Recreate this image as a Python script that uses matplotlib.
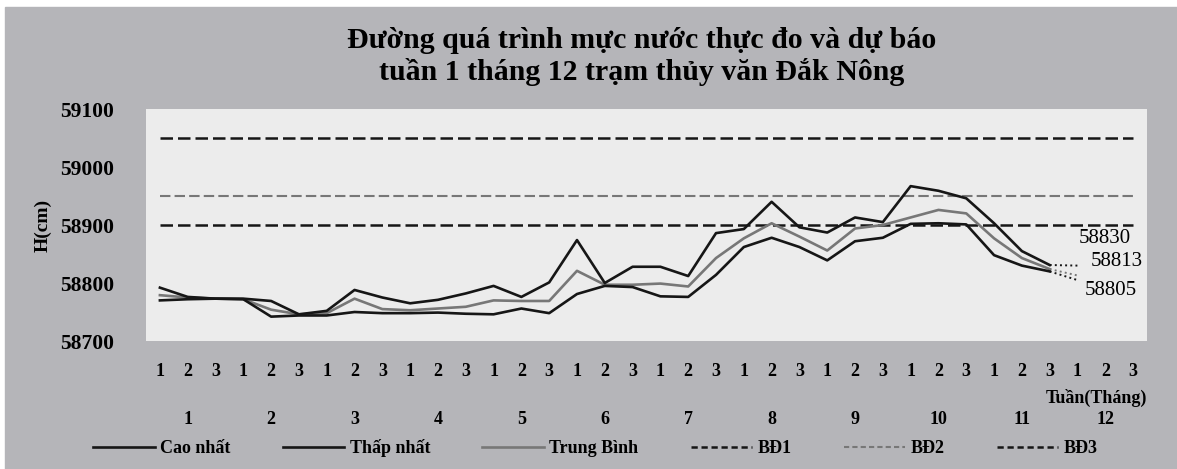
import numpy as np
import matplotlib
matplotlib.use("Agg")
import matplotlib.pyplot as plt
from matplotlib.lines import Line2D
from matplotlib.patches import Rectangle

# --- data -----------------------------------------------------------------
thang = [str(m) for m in range(1, 13)]
tuan = ["1", "2", "3"] * 12

cao_nhat = [58792, 58776, 58773, 58773, 58769, 58746, 58752, 58788, 58775,
            58765, 58771, 58782, 58795, 58776, 58801, 58874, 58800, 58828,
            58828, 58812, 58886, 58893, 58940, 58896, 58887, 58913, 58905,
            58967, 58959, 58946, 58903, 58855, 58831]
thap_nhat = [58770, 58772, 58773, 58772, 58742, 58744, 58744, 58750, 58748,
             58748, 58749, 58747, 58746, 58756, 58748, 58781, 58795, 58793,
             58777, 58776, 58814, 58862, 58878, 58862, 58839, 58872, 58878,
             58902, 58903, 58901, 58848, 58830, 58820]
trung_binh = [58779, 58775, 58773, 58772, 58754, 58746, 58748, 58773, 58755,
              58753, 58756, 58759, 58770, 58769, 58769, 58821, 58797, 58797,
              58799, 58794, 58843, 58877, 58903, 58880, 58856, 58894, 58900,
              58913, 58926, 58920, 58877, 58843, 58824]

# du bao tuan 1 thang 12
du_bao = {"cao": 58830, "tb": 58813, "thap": 58805}

bd1, bd2, bd3 = 58900, 58950, 59050

# --- style ----------------------------------------------------------------
plt.rcParams["font.family"] = ["Liberation Serif", "DejaVu Serif"]
den = "#161616"
xam = "#777777"
nen = "#b5b5b9"
nen_ve = "#ececec"

fig = plt.figure(figsize=(11.77, 4.69), dpi=100, facecolor="white")
fig.patches.append(Rectangle((5 / 1177, 0), 1, 1 - 7 / 469,
                             transform=fig.transFigure, color=nen, zorder=-10))

ax = fig.add_axes([146 / 1177, 128 / 469, 1001 / 1177, 232 / 469])
ax.set_facecolor(nen_ve)
for s in ax.spines.values():
    s.set_visible(False)

x_all = np.arange(len(tuan))
x_obs = np.arange(len(cao_nhat))
lw = 1.9

# bao dong
ax.plot(x_all, [bd3] * len(x_all), color=den, lw=1.8, dashes=(5, 2))
ax.plot(x_all, [bd2] * len(x_all), color=xam, lw=1.5, dashes=(5, 2))
ax.plot(x_all, [bd1] * len(x_all), color=den, lw=1.8, dashes=(5, 2))

ax.plot(x_obs, trung_binh, color=xam, lw=lw)
ax.plot(x_obs, thap_nhat, color=den, lw=lw)
ax.plot(x_obs, cao_nhat, color=den, lw=lw)

# du bao
xb = [x_obs[-1], x_obs[-1] + 1]
ax.plot(xb, [cao_nhat[-1], du_bao["cao"]], color=den, lw=1.4, ls=":")
ax.plot(xb, [trung_binh[-1], du_bao["tb"]], color=xam, lw=1.4, ls=":")
ax.plot(xb, [thap_nhat[-1], du_bao["thap"]], color=den, lw=1.4, ls=":")

ax.annotate(str(du_bao["cao"]), (xb[1], du_bao["cao"]), xytext=(27, 27),
            textcoords="offset pixels", ha="center", va="center", fontsize=15)
ax.annotate(str(du_bao["tb"]), (xb[1], du_bao["tb"]), xytext=(39, 14),
            textcoords="offset pixels", ha="center", va="center", fontsize=15)
ax.annotate(str(du_bao["thap"]), (xb[1], du_bao["thap"]), xytext=(33, -10),
            textcoords="offset pixels", ha="center", va="center", fontsize=15)

ax.set_xlim(-0.5, len(tuan) - 0.5)
ax.set_ylim(58700, 59100)
ax.set_yticks(np.arange(58700, 59101, 100))
ax.set_yticklabels([str(v) for v in range(58700, 59101, 100)],
                   fontsize=15.5, fontweight="bold")
ax.set_xticks(x_all)
ax.set_xticklabels(tuan, fontsize=13, fontweight="bold")
ax.tick_params(axis="both", length=0)
ax.tick_params(axis="x", pad=16)
ax.tick_params(axis="y", pad=23)

ax.set_ylabel("H(cm)", fontsize=14, fontweight="bold", labelpad=6)

# nhan thang
for i, t in enumerate(thang):
    ax.text(3 * i + 1, -0.34, t, transform=ax.get_xaxis_transform(),
            ha="center", va="center", fontsize=13, fontweight="bold")
ax.text(1.0, -0.245, "Tuần(Tháng)", transform=ax.transAxes,
        ha="right", va="center", fontsize=13, fontweight="bold")

fig.text(0.545, 1 - 41 / 469, "Đường quá trình mực nước thực đo và dự báo",
         ha="center", va="center", fontsize=21.5, fontweight="bold")
fig.text(0.545, 1 - 72 / 469, "tuần 1 tháng 12 trạm thủy văn Đắk Nông",
         ha="center", va="center", fontsize=21.5, fontweight="bold")

handles = [
    Line2D([], [], color=den, lw=lw),
    Line2D([], [], color=den, lw=lw),
    Line2D([], [], color=xam, lw=lw),
    Line2D([], [], color=den, lw=1.8, dashes=(2.5, 1.5)),
    Line2D([], [], color=xam, lw=1.5, dashes=(2.5, 1.5)),
    Line2D([], [], color=den, lw=1.8, dashes=(2.5, 1.5)),
]
labels = ["Cao nhất", "Thấp nhất", "Trung Bình", "BĐ1", "BĐ2", "BĐ3"]
fig.legend(handles, labels, loc="center", bbox_to_anchor=(0.506, 21 / 469),
           ncol=6, frameon=False, handlelength=3.4, handletextpad=0.3,
           columnspacing=2.9, prop={"weight": "bold", "size": 13})

fig.savefig("out.png", dpi=100, facecolor=fig.get_facecolor())
